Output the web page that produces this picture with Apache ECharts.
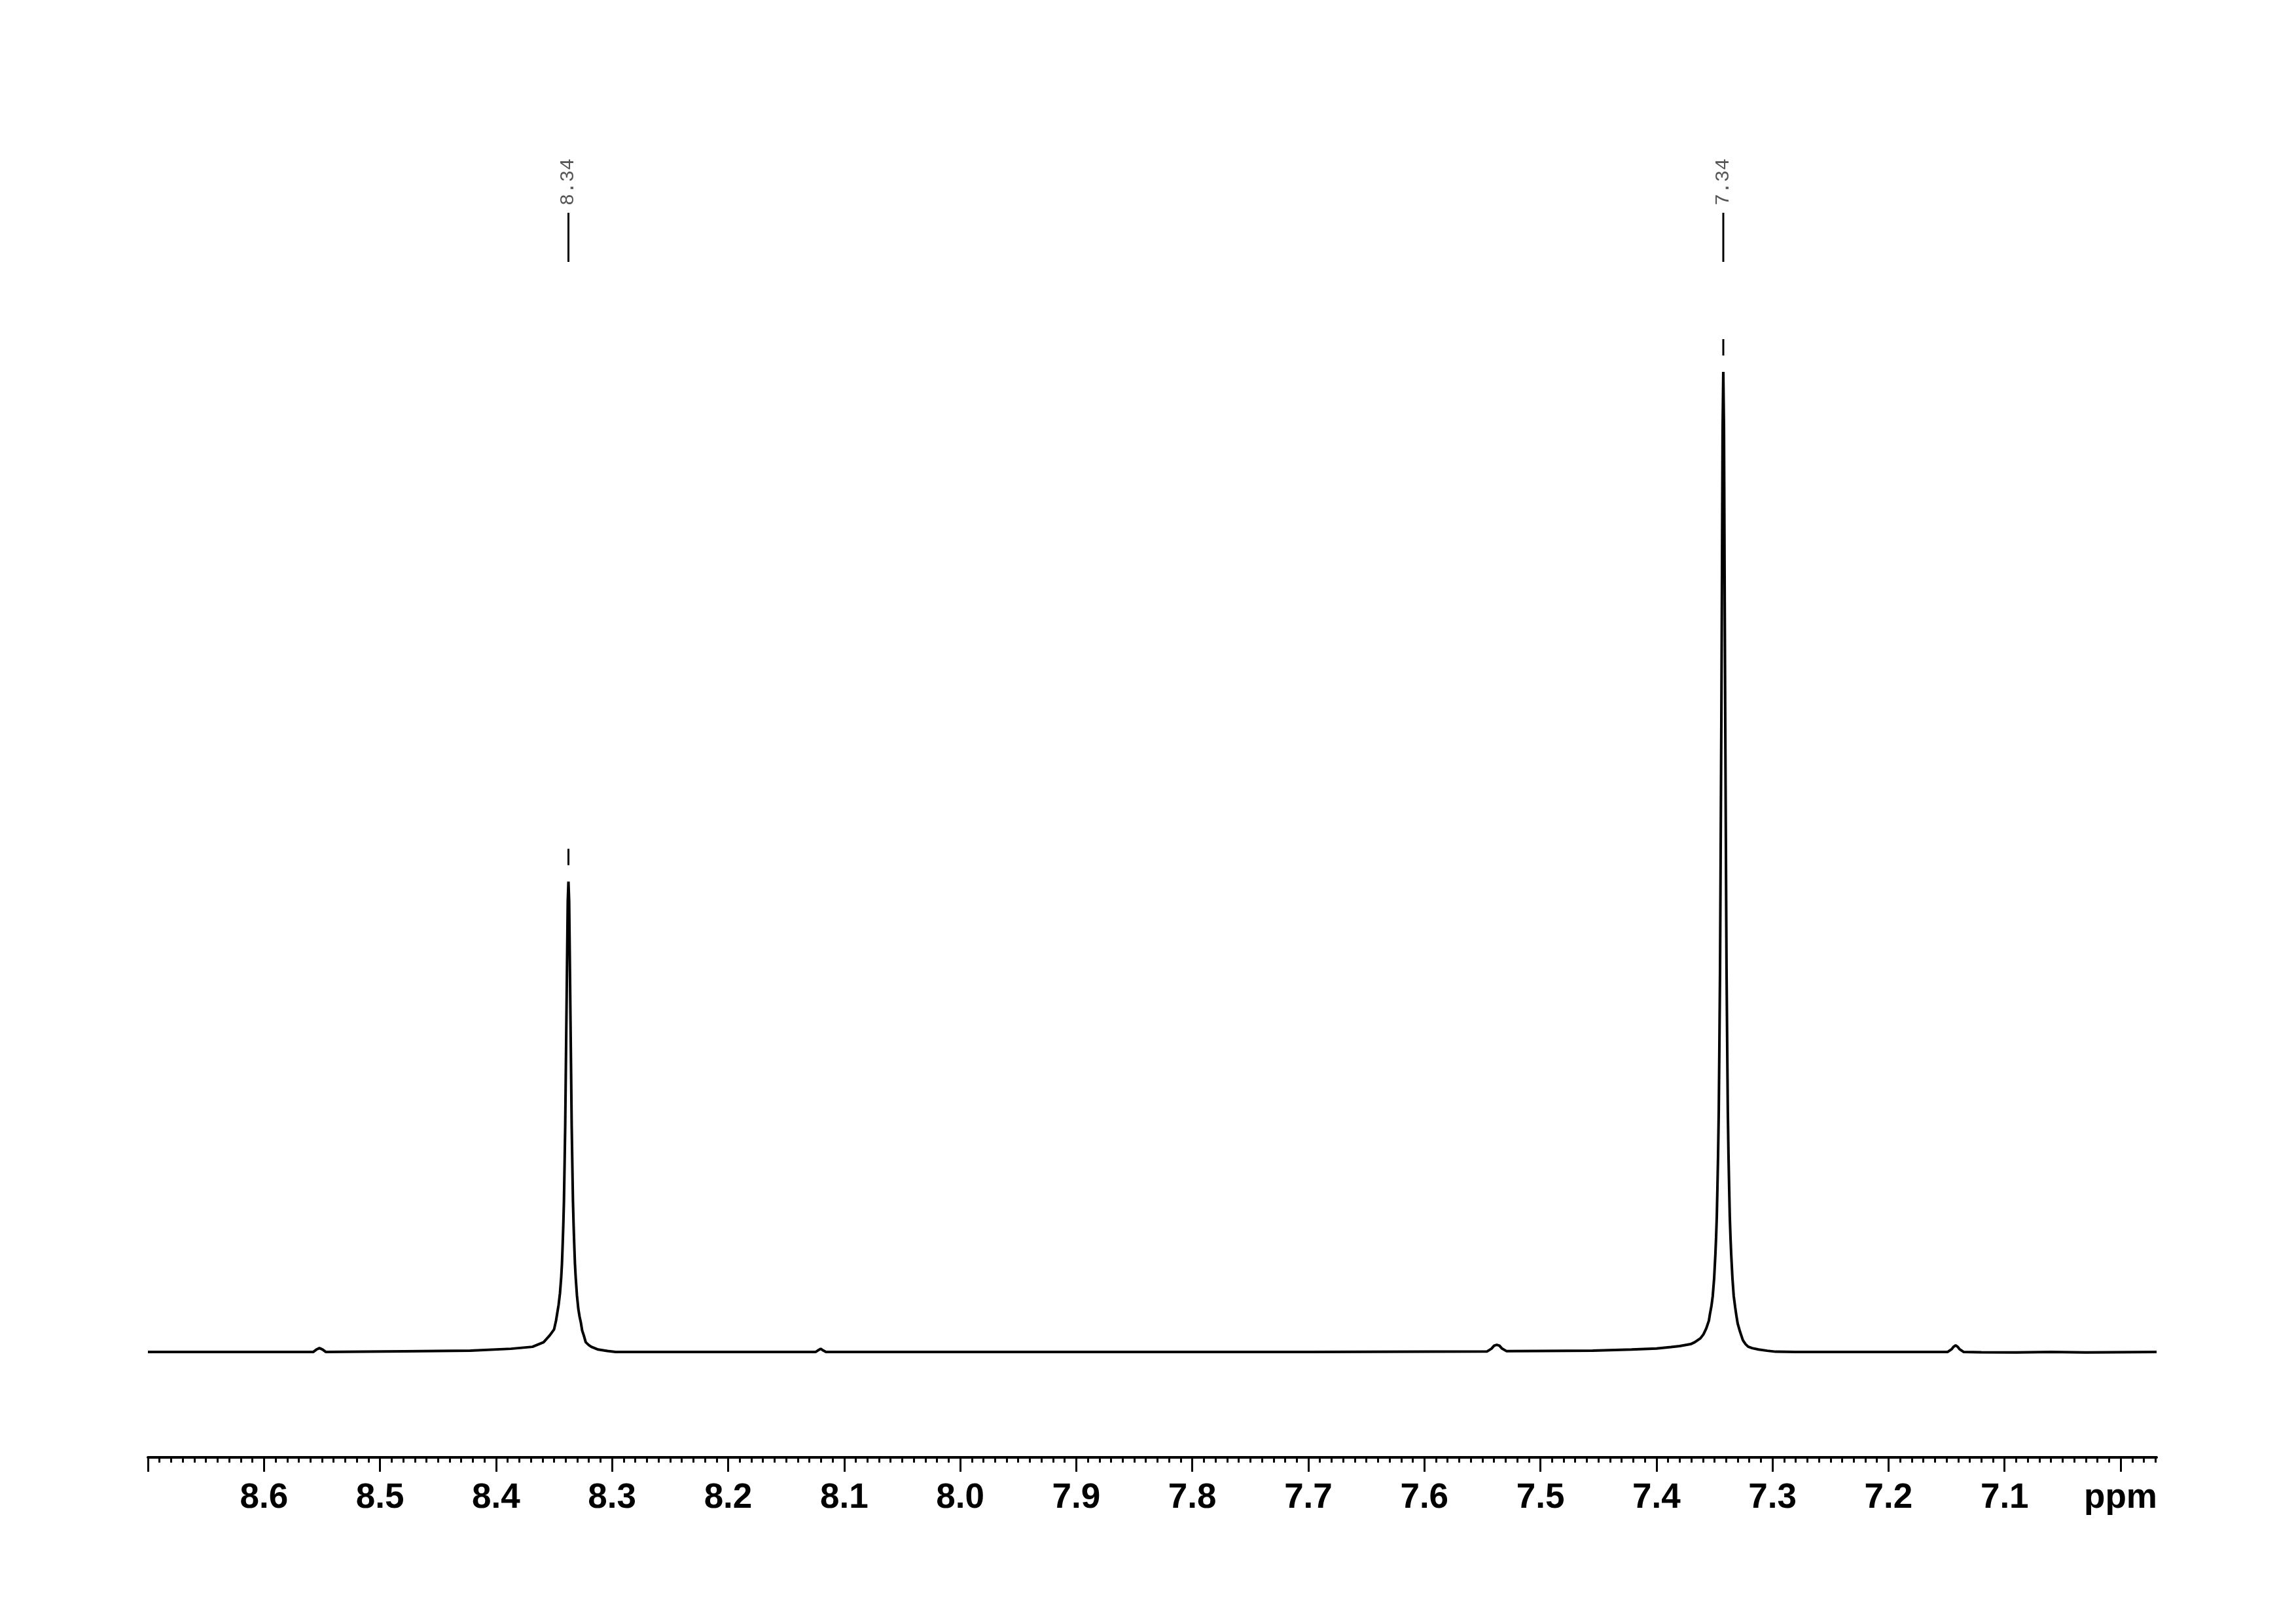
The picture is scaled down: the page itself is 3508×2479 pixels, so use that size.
<!DOCTYPE html>
<html>
<head>
<meta charset="utf-8">
<script src="https://cdn.jsdelivr.net/npm/echarts@6/dist/echarts.min.js"></script>
<style>
html,body{margin:0;padding:0;background:#fff;}
#chart{width:3508px;height:2479px;}
</style>
</head>
<body>
<div id="chart"></div>
<script>
// Chemical shift (ppm) and intensity (7.34 peak = 1000)
const ppm = [
  8.7000, 8.5900, 8.5576, 8.5548, 8.5522, 8.5494, 8.5466,
  8.4786, 8.4222, 8.3872, 8.3686, 8.3590, 8.3537, 8.3500, 8.3483, 8.3472, 8.3461,
  8.3449, 8.3438, 8.3432, 8.3427, 8.3421, 8.3415, 8.3410, 8.3404, 8.3399, 8.3393,
  8.3387, 8.3382, 8.3376, 8.3370, 8.3365, 8.3359, 8.3353, 8.3348, 8.3342, 8.3337,
  8.3331, 8.3325, 8.3320, 8.3314, 8.3303, 8.3291, 8.3280, 8.3269, 8.3258, 8.3244,
  8.3227, 8.3200, 8.3179, 8.3120, 8.3040, 8.2970,
  8.1247, 8.1227, 8.1202, 8.1180, 8.1157,
  7.7000, 7.5461, 7.5421, 7.5399, 7.5376, 7.5353, 7.5331, 7.5291,
  7.5000, 7.4550, 7.4214, 7.4000, 7.3875, 7.3800, 7.3706, 7.3670, 7.3621, 7.3595,
  7.3571, 7.3548, 7.3540, 7.3526, 7.3515, 7.3503, 7.3492, 7.3486, 7.3480, 7.3475,
  7.3469, 7.3463, 7.3458, 7.3452, 7.3447, 7.3441, 7.3435, 7.3430, 7.3424, 7.3418,
  7.3413, 7.3407, 7.3401, 7.3396, 7.3390, 7.3385, 7.3379, 7.3373, 7.3368, 7.3362,
  7.3356, 7.3345, 7.3334, 7.3322, 7.3311, 7.3300, 7.3283, 7.3272, 7.3255, 7.3232,
  7.3210, 7.3176, 7.3120, 7.3046, 7.2973, 7.2800,
  7.1492, 7.1455, 7.1438, 7.1422, 7.1406, 7.1389, 7.1352,
  7.1200, 7.0900, 7.0600, 7.0300, 6.9690
];
const intensity = [
  0, 0, 0, 2.5, 4, 2.5, 0,
  0.7, 1.3, 3.3, 5.3, 10, 17, 23, 32, 40, 48,
  60, 77, 90, 106, 127, 153, 187, 230, 283, 345,
  409, 460, 480, 460, 409, 345, 283, 230, 187, 153,
  127, 106, 90, 77, 58, 44, 36, 30, 22, 17,
  10, 7, 5.3, 2.5, 1, 0,
  0, 1.5, 3.3, 1.5, 0,
  0, 0.5, 3.5, 6.5, 7.3, 6.5, 3.5, 0.8,
  1.0, 1.3, 2.5, 3.5, 5, 6, 8, 10, 14, 18,
  24, 32, 38, 47, 57, 75, 100, 117, 138, 165,
  200, 246, 308, 390, 500, 640, 800, 941, 1000, 941,
  800, 640, 500, 390, 308, 246, 200, 165, 138, 117,
  100, 75, 57, 46, 37, 29, 22, 18, 12, 8,
  5.5, 4, 2.5, 1.3, 0.3, 0,
  0, 3, 5.5, 6.7, 5.5, 3, 0,
  -0.3, -0.5, 0, -0.4, 0
];
// Axis ticks and labels
const majorTicks = [7.0, 7.1, 7.2, 7.3, 7.4, 7.5, 7.6, 7.7, 7.8, 7.9, 8.0, 8.1, 8.2, 8.3, 8.4, 8.5, 8.6, 8.7];
const tickLabels = [7.0, 7.1, 7.2, 7.3, 7.4, 7.5, 7.6, 7.7, 7.8, 7.9, 8.0, 8.1, 8.2, 8.3, 8.4, 8.5, 8.6];
const unitLabel = 'ppm';
// Peak picking annotations
const peakPpm = [8.3376, 7.3424];
const peakText = ['8.34', '7.34'];

const minorTicks = [];
for (let k = 697; k <= 870; k++) minorTicks.push(k / 100);

const data = ppm.map((p, i) => [p, intensity[i]]);

const chart = echarts.init(document.getElementById('chart'), null, {renderer: 'canvas'});
const labelFont = {fontFamily: '"Liberation Sans", Arial, Helvetica, sans-serif', fontWeight: 'bold', fontSize: 53, color: '#000'};
chart.setOption({
  animation: false,
  backgroundColor: '#fff',
  grid: {left: 226, right: 213, top: 568, bottom: 253, containLabel: false},
  xAxis: [{
    type: 'value', inverse: true, min: 6.969, max: 8.70, position: 'bottom',
    axisLine: {onZero: false, lineStyle: {color: '#000', width: 4}},
    axisTick: {customValues: majorTicks, length: 22, lineStyle: {color: '#000', width: 3}},
    axisLabel: Object.assign({
      customValues: tickLabels, margin: 36,
      formatter: v => Math.abs(v - 7.0) < 1e-6 ? unitLabel : v.toFixed(1)
    }, labelFont),
    splitLine: {show: false}
  }, {
    type: 'value', inverse: true, min: 6.969, max: 8.70, position: 'bottom', offset: 0,
    axisLine: {show: false, onZero: false},
    axisTick: {customValues: minorTicks, length: 8, lineStyle: {color: '#000', width: 3}},
    axisLabel: {show: false},
    splitLine: {show: false}
  }],
  yAxis: {type: 'value', min: -107.5, max: 1000, show: false, splitLine: {show: false}},
  series: [{
    type: 'line', xAxisIndex: 0, yAxisIndex: 0, data: data, showSymbol: false, symbol: 'none',
    lineStyle: {color: '#000', width: 4, join: 'bevel'}, silent: true
  }]
});

// Peak annotations positioned through the axes' scales
const graphics = [];
peakPpm.forEach((p, i) => {
  let best = 0, bestD = Infinity;
  ppm.forEach((q, j) => { const d = Math.abs(q - p); if (d < bestD) { bestD = d; best = j; } });
  const apex = chart.convertToPixel({xAxisIndex: 0, yAxisIndex: 0}, [p, intensity[best]]);
  const x = apex[0];
  graphics.push({type: 'line', shape: {x1: x, y1: 325, x2: x, y2: 400}, style: {stroke: '#000', lineWidth: 3}});
  graphics.push({type: 'line', shape: {x1: x, y1: apex[1] - 50, x2: x, y2: apex[1] - 25}, style: {stroke: '#000', lineWidth: 3}});
  graphics.push({type: 'text', x: x, y: 278, rotation: Math.PI / 2,
    style: {text: peakText[i], font: '30px "Liberation Mono", "DejaVu Sans Mono", monospace', fill: '#555', align: 'center', verticalAlign: 'middle'}});
});
chart.setOption({graphic: graphics});
</script>
</body>
</html>
